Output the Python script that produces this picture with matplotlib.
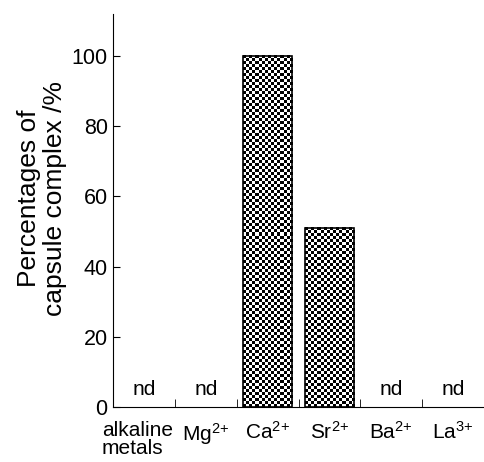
import numpy as np
import matplotlib
matplotlib.use('Agg')
import matplotlib.pyplot as plt
import matplotlib.transforms as mtransforms

plt.rcParams['font.family'] = ['Liberation Sans', 'DejaVu Sans']
plt.rcParams['mathtext.default'] = 'regular'

categories = ['alkaline\nmetals', 'Mg$^{2{+}}$', 'Ca$^{2{+}}$', 'Sr$^{2{+}}$', 'Ba$^{2{+}}$', 'La$^{3{+}}$']
values = [0, 0, 100, 51, 0, 0]
detected = [False, False, True, True, False, False]

fig = plt.figure(figsize=(4.84, 4.62), dpi=100)
ax = fig.add_axes([0.234, 0.119, 0.766, 0.851])

ax.set_xlim(-0.5, len(categories) - 0.5)
ax.set_ylim(0, 112)

x = np.arange(len(categories))
bars = []
for i, (v, d) in enumerate(zip(values, detected)):
    if d:
        b = ax.bar(x[i], v, width=0.8, facecolor='none', edgecolor='black',
                   linewidth=1.2, zorder=3)[0]
        bars.append(b)
    else:
        ax.text(x[i], 5, 'nd', ha='center', va='center', fontsize=15)

# checkerboard fill, about 3 px per cell
fig.canvas.draw()
for b in bars:
    x0, y0 = b.get_x(), b.get_y()
    w, h = b.get_width(), b.get_height()
    p0 = ax.transData.transform((x0, y0))
    p1 = ax.transData.transform((x0 + w, y0 + h))
    nx = max(1, int(round((p1[0] - p0[0]) / 3)))
    ny = max(1, int(round((p1[1] - p0[1]) / 3)))
    ii, jj = np.indices((ny, nx))
    checker = (ii + jj) % 2
    ax.imshow(checker, extent=(x0, x0 + w, y0, y0 + h), cmap='gray',
              interpolation='nearest', aspect='auto', zorder=2)

ax.set_xlim(-0.5, len(categories) - 0.5)
ax.set_ylim(0, 112)
ax.set_yticks([0, 20, 40, 60, 80, 100])
ax.set_xticks(x)
ax.set_xticklabels(categories, fontsize=15, linespacing=0.95)
ax.set_xticks(x[:-1] + 0.5, minor=True)
ax.tick_params(axis='x', which='major', length=0, pad=10)
ax.tick_params(axis='x', which='minor', direction='in', length=6)
ax.tick_params(axis='y', direction='in', length=5, labelsize=15.5, pad=4)

lab0 = ax.get_xticklabels()[0]
lab0.set_multialignment('left')
lab0.set_transform(lab0.get_transform() + mtransforms.ScaledTranslation(-7 / 100, 0, fig.dpi_scale_trans))

ax.spines['top'].set_visible(False)
ax.spines['right'].set_visible(False)
ax.set_ylabel('Percentages of\ncapsule complex /%', fontsize=19, linespacing=1.1)
ax.yaxis.set_label_coords(-0.125, 0.53)

plt.savefig('out.png', dpi=100)
